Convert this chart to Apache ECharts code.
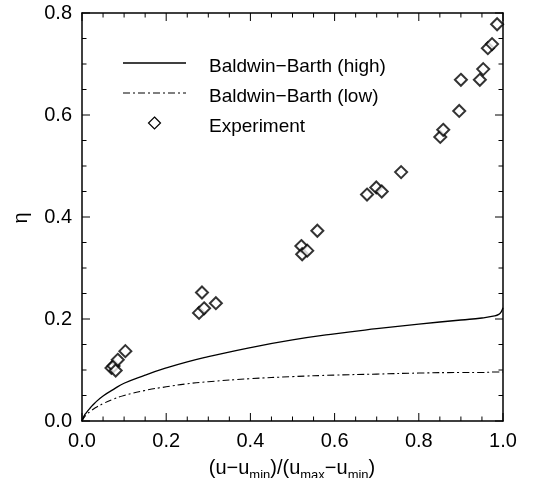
<!DOCTYPE html>
<html>
<head>
<meta charset="utf-8">
<script src="https://cdn.jsdelivr.net/npm/echarts@6/dist/echarts.min.js"></script>
<style>
html,body{margin:0;padding:0;background:#fff;}
#chart{width:544px;height:478px;}
</style>
</head>
<body>
<div id="chart"></div>
<script>
// ---- data ----
const seriesNames = ['Baldwin\u2212Barth (high)', 'Baldwin\u2212Barth (low)', 'Experiment'];
const curveX   = [0, 0.005, 0.01, 0.02, 0.03, 0.05, 0.075, 0.1, 0.15, 0.2, 0.25, 0.3, 0.4, 0.5, 0.6, 0.7, 0.8, 0.9, 0.95, 0.98, 0.99, 0.995, 1.0];
const highEta  = [0, 0.010, 0.016, 0.026, 0.035, 0.049, 0.062, 0.074, 0.090, 0.104, 0.116, 0.126, 0.144, 0.159, 0.171, 0.181, 0.190, 0.198, 0.202, 0.206, 0.209, 0.213, 0.222];
const lowEta   = [0, 0.007, 0.012, 0.019, 0.025, 0.034, 0.043, 0.050, 0.060, 0.067, 0.073, 0.077, 0.083, 0.087, 0.090, 0.092, 0.094, 0.095, 0.095, 0.096, 0.096, 0.096, 0.096];
const expX     = [0.070, 0.075, 0.080, 0.085, 0.103, 0.278, 0.285, 0.290, 0.318, 0.521, 0.523, 0.535, 0.559, 0.677, 0.699, 0.712, 0.758, 0.851, 0.858, 0.896, 0.900, 0.945, 0.953, 0.964, 0.974, 0.986];
const expEta   = [0.104, 0.108, 0.099, 0.120, 0.137, 0.212, 0.252, 0.221, 0.231, 0.343, 0.327, 0.334, 0.373, 0.444, 0.458, 0.450, 0.488, 0.557, 0.571, 0.608, 0.669, 0.669, 0.690, 0.731, 0.739, 0.778];
const xTicks = ['0.0', '0.2', '0.4', '0.6', '0.8', '1.0'];
const yTicks = ['0.0', '0.2', '0.4', '0.6', '0.8'];
const xTitle = '(u\u2212u{s|min})/(u{s|max}\u2212u{s|min})';
const yTitle = '\u03b7';

const zip = (a, b) => a.map((v, i) => [v, b[i]]);
const FONT = 'Liberation Sans';

// tick values derived from the tick labels (4 minor divisions per major step)
function tickValues(labels) {
  const major = labels.map(Number);
  const minor = [];
  for (let i = 0; i < major.length - 1; i++) {
    const step = (major[i + 1] - major[i]) / 4;
    for (let k = 1; k < 4; k++) minor.push(major[i] + k * step);
  }
  return { major, minor };
}
const xT = tickValues(xTicks);
const yT = tickValues(yTicks);

function frame(extra) {
  return Object.assign({
    type: 'value',
    axisLine: { show: true, onZero: false, lineStyle: { color: '#000', width: 1.5 } },
    axisTick: { show: false },
    minorTick: { show: false },
    splitLine: { show: false },
    axisLabel: { show: false }
  }, extra);
}

// legend + axis titles drawn as graphic elements
const LG_LEFT = 123, LG_W = 63, LG_TOP = 63, LG_STEP = 30, LG_TXT = 209;
const graphics = [];
seriesNames.forEach((name, i) => {
  const y = LG_TOP + i * LG_STEP;
  if (i < 2) {
    graphics.push({
      type: 'line', shape: { x1: LG_LEFT, y1: y, x2: LG_LEFT + LG_W, y2: y },
      style: { stroke: '#000', lineWidth: i === 0 ? 1.3 : 1.1, lineDash: i === 0 ? null : [7, 3, 2, 3] }
    });
  } else {
    const cx = LG_LEFT + LG_W / 2;
    graphics.push({
      type: 'polygon',
      shape: { points: [[cx, y - 6], [cx + 6, y], [cx, y + 6], [cx - 6, y]] },
      style: { fill: '#fff', stroke: '#000', lineWidth: 1.2 }
    });
  }
  graphics.push({
    type: 'text', x: LG_TXT, y: y + 4,
    style: { text: name, fill: '#000', fontSize: 19, fontFamily: FONT, verticalAlign: 'middle' }
  });
});
graphics.push({
  type: 'text', x: 292, y: 457,
  style: {
    text: xTitle, fill: '#000', fontSize: 20, fontFamily: FONT, lineHeight: 22,
    align: 'center', verticalAlign: 'top',
    rich: { s: { fontSize: 13, lineHeight: 14, verticalAlign: 'top', padding: [12, 0, 0, 0], fontFamily: FONT, fill: '#000' } }
  }
});
graphics.push({
  type: 'text', x: 21, y: 218, rotation: Math.PI / 2,
  style: { text: yTitle, fill: '#000', fontSize: 20, fontFamily: FONT, align: 'center', verticalAlign: 'middle' }
});

// inward ticks on all four sides, placed through the axes' own scales
function renderTicks(params, api) {
  const cs = params.coordSys;
  const left = cs.x, right = cs.x + cs.width, top = cs.y, bottom = cs.y + cs.height;
  const children = [];
  const seg = (x1, y1, x2, y2) => children.push({
    type: 'line', shape: { x1, y1, x2, y2 }, style: { stroke: '#000', lineWidth: 1 }
  });
  const MAJ = 8, MIN = 4.5;
  xT.major.concat(xT.minor).forEach((v, i) => {
    const len = i < xT.major.length ? MAJ : MIN;
    const px = api.coord([v, 0])[0];
    seg(px, bottom, px, bottom - len);
    seg(px, top, px, top + len);
  });
  yT.major.concat(yT.minor).forEach((v, i) => {
    const len = i < yT.major.length ? MAJ : MIN;
    const py = api.coord([0, v])[1];
    seg(left, py, left + len, py);
    seg(right, py, right - len, py);
  });
  return { type: 'group', children };
}

const chart = echarts.init(document.getElementById('chart'), null, { renderer: 'canvas' });
chart.setOption({
  backgroundColor: '#fff',
  animation: false,
  textStyle: { fontFamily: FONT },
  grid: { left: 82, right: 41, top: 13, bottom: 57, outerBoundsMode: 'none', containLabel: false },
  graphic: graphics,
  xAxis: [
    frame({
      min: 0, max: 1, interval: 0.2, position: 'bottom',
      axisLabel: { show: true, margin: 10, fontSize: 20, color: '#000', fontFamily: FONT,
        formatter: (v) => xTicks[Math.round(v / 0.2)] }
    }),
    frame({ min: 0, max: 1, interval: 0.2, position: 'top' })
  ],
  yAxis: [
    frame({
      min: 0, max: 0.8, interval: 0.2, position: 'left',
      axisLabel: { show: true, margin: 10, fontSize: 20, color: '#000', fontFamily: FONT,
        formatter: (v) => yTicks[Math.round(v / 0.2)] }
    }),
    frame({ min: 0, max: 0.8, interval: 0.2, position: 'right' })
  ],
  series: [
    {
      name: seriesNames[0], type: 'line', data: zip(curveX, highEta),
      symbol: 'none', smooth: true,
      lineStyle: { color: '#000', width: 1.3, type: 'solid' }
    },
    {
      name: seriesNames[1], type: 'line', data: zip(curveX, lowEta),
      symbol: 'none', smooth: true,
      lineStyle: { color: '#000', width: 1.1, type: [7, 3, 2, 3] }
    },
    {
      name: seriesNames[2], type: 'scatter', data: zip(expX, expEta),
      symbol: 'emptyDiamond', symbolSize: 12,
      itemStyle: { color: '#000', borderColor: '#000', borderWidth: 1.2 }
    },
    {
      name: 'ticks', type: 'custom', data: [[0, 0]], silent: true, clip: false,
      renderItem: renderTicks
    }
  ]
});
</script>
</body>
</html>
